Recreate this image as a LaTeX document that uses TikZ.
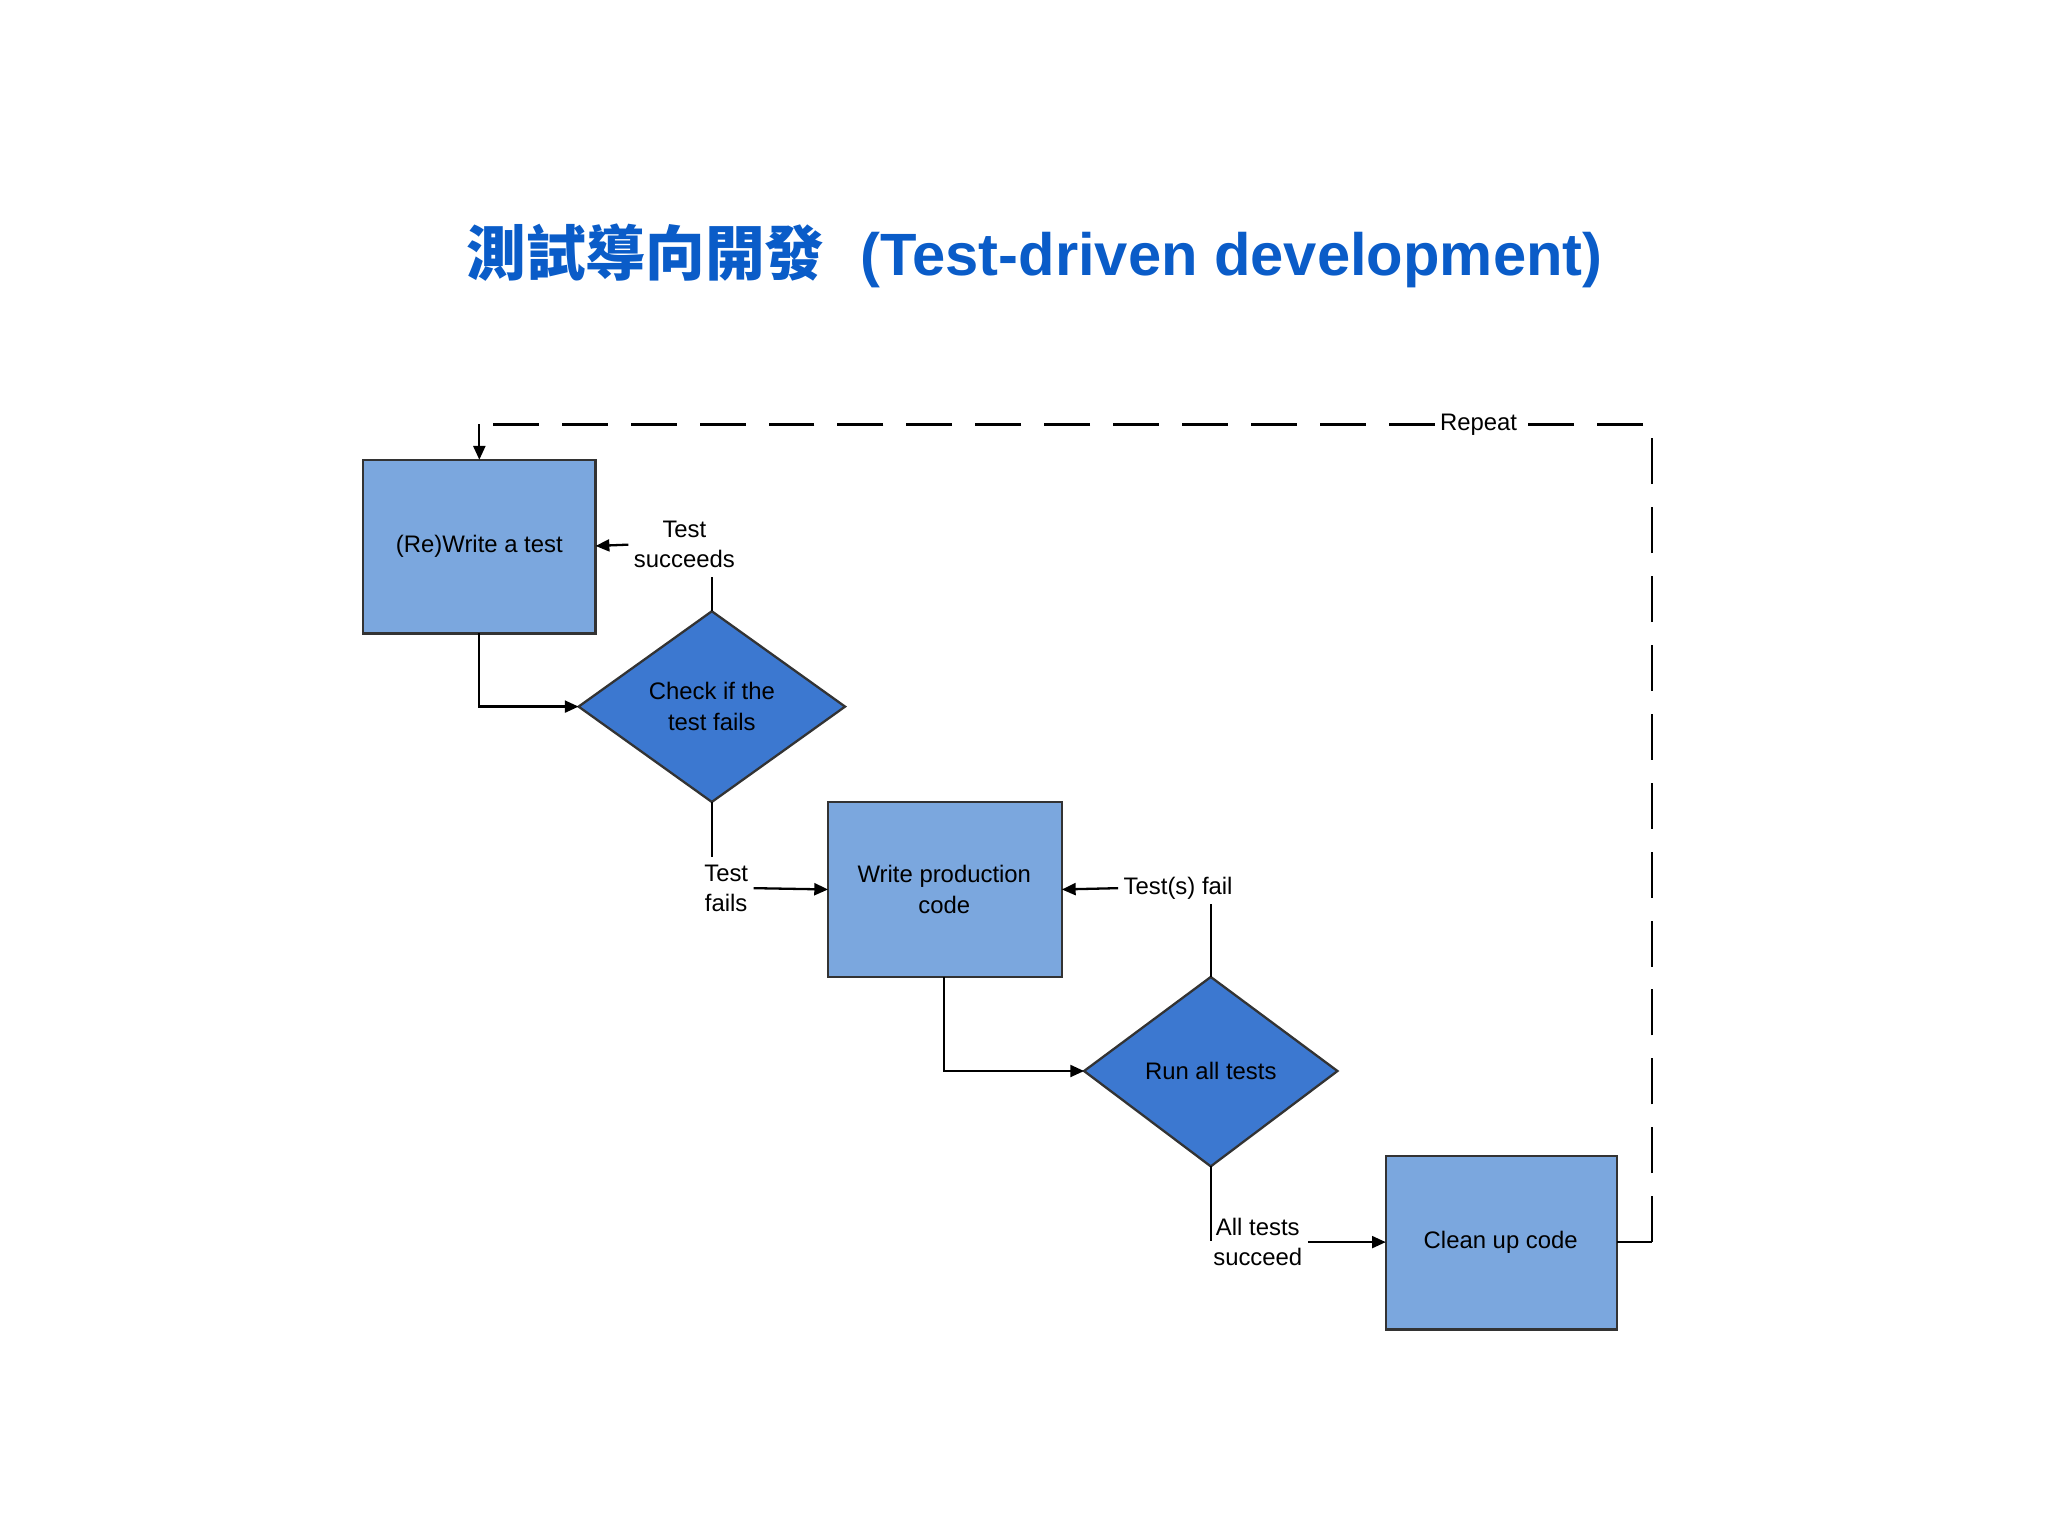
\documentclass[tikz,border=0pt]{standalone}
\usepackage{fontspec}
\setmainfont{Liberation Sans}
\newfontfamily\cjk{Noto Sans CJK TC}
\usetikzlibrary{shapes.geometric,arrows.meta}
\definecolor{boxc}{HTML}{7BA7DE}
\definecolor{diac}{HTML}{3C78D0}
\definecolor{titc}{HTML}{0A5CC8}
\begin{document}
\begin{tikzpicture}[x=0.01cm,y=-0.01cm,
  box/.style={draw=black!80,fill=boxc,line width=0.5pt,font=\fontsize{5.2}{6.6}\selectfont,align=center},
  dia/.style={draw=black!80,fill=diac,line width=0.5pt,font=\fontsize{5.2}{6.6}\selectfont,align=center},
  lbl/.style={font=\fontsize{5.2}{6.6}\selectfont,align=center,inner sep=1pt},
  con/.style={line width=0.5pt},
  arr/.style={line width=0.5pt,-{Triangle[length=3pt,width=2.6pt]}}]
\useasboundingbox (0,0) rectangle (1568,1176);
\node[text=titc,font=\fontsize{13}{15}\selectfont\bfseries] (title) at (792,196) {{\cjk\bfseries 測試導向開發}\hspace{0.6em}(Test-driven development)};
\draw[box] (278,352) rectangle (456,485); \node[lbl] (b1) at (367,418) {(Re)Write a test};
\coordinate (b1c) at (367,418);
\draw[dia] (443,541) -- (545,468) -- (647,541) -- (545,614) -- cycle;
\node[lbl,text=black] (d1) at (545,541) {Check if the\\test fails};
\draw[box] (634,614) rectangle (813,748); \node[lbl] (b2) at (723,681) {Write production\\code};
\draw[dia] (830,820) -- (927,748) -- (1024,820) -- (927,893) -- cycle;
\node[lbl] (d2) at (927,820) {Run all tests};
\draw[box] (1061,885) rectangle (1238,1018); \node[lbl] (b3) at (1149,951) {Clean up code};
% named coordinates
\coordinate (b1b) at (367,485); \coordinate (d1l) at (443,541);
\coordinate (d1t) at (545,468); \coordinate (d1b) at (545,614);
\coordinate (b1r) at (456,418); \coordinate (b2l) at (634,681);
\coordinate (b2r) at (813,681); \coordinate (b2b) at (723,748);
\coordinate (d2l) at (830,820); \coordinate (d2t) at (927,748);
\coordinate (d2b) at (927,893); \coordinate (b3l) at (1061,951);
\coordinate (b3r) at (1238,951); \coordinate (b1t) at (367,352);
\draw[arr] (b1b) |- (d1l);
\node[lbl] (ts) at (524,417) {Test\\succeeds};
\draw[con] (d1t) -- (545,442);
\draw[arr] (ts.west) -- (b1r);
\node[lbl] (tf) at (556,680) {Test\\fails};
\draw[con] (d1b) -- (545,656);
\draw[arr] (tf.east) -- (b2l);
\draw[arr] (b2b) |- (d2l);
\node[lbl] (tsf) at (902,680) {Test(s) fail};
\draw[con] (d2t) -- (927,692);
\draw[arr] (tsf.west) -- (b2r);
\node[lbl] (ats) at (963,951) {All tests\\succeed};
\draw[con] (d2b) -- (927,950);
\draw[arr] (ats.east) -- (b3l);
\node[lbl,fill=white] (rep) at (1132,325) {Repeat};
\draw[con] (b3r) -- (1265,951);
\draw[con,dash pattern=on 10pt off 5pt] (1265,951) -- (1265,325) -- (rep.east);
\draw[con,dash pattern=on 10pt off 5pt] (rep.west) -- (367,325);
\draw[arr] (367,325) -- (b1t);
\end{tikzpicture}
\end{document}
